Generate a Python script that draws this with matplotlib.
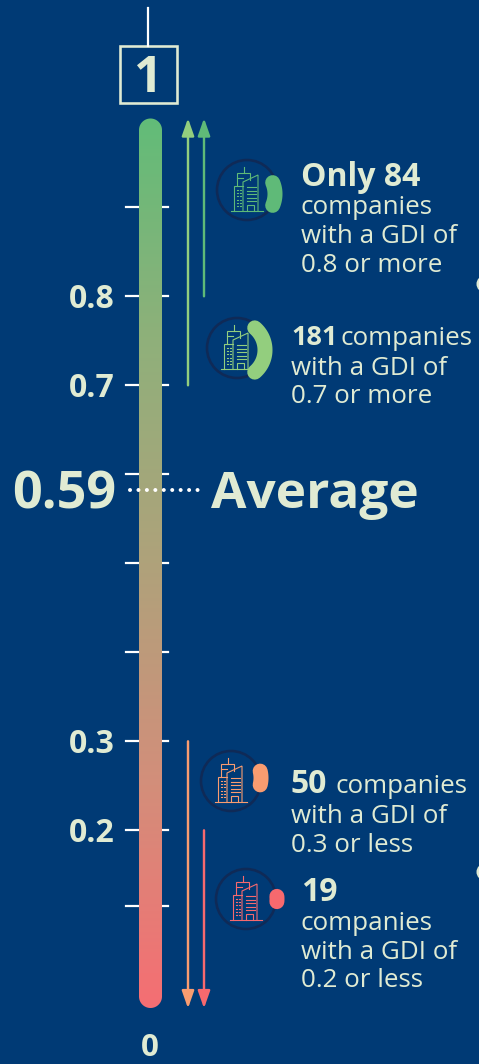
import numpy as np
import matplotlib.pyplot as plt
from matplotlib.colors import LinearSegmentedColormap
from matplotlib.patches import Circle, PathPatch, Rectangle
from matplotlib.path import Path

plt.rcParams['font.family'] = ['Open Sans', 'DejaVu Sans']

BG = '#003A75'
TXT = '#E0EBD3'
W, H = 479, 1064

# gdi scale: where the ticks sit
tick_values = [0.9, 0.8, 0.7, 0.6, 0.5, 0.4, 0.3, 0.2, 0.115]
tick_labels = ['', '0.8', '0.7', '', '', '', '0.3', '0.2', '']
avg_label = '0.59'
avg_position = 0.582

# callouts
counts = [84, 181, 50, 19]
thresholds = [0.8, 0.7, 0.3, 0.2]
directions = ['up', 'up', 'down', 'down']
colors = ['#5FBA78', '#93CE7E', '#F99C70', '#F7696E']
count_texts = ['Only 84', '181', '50', '19']
count_sizes = [23, 19.5, 23, 23]
inline_gap = [0, 50, 45, 0]
tail_texts = ['0.8 or more', '0.7 or more', '0.3 or less', '0.2 or less']

# layout in pixels
icon_xy = [(247, 190), (237, 348), (231, 781), (246, 899)]
blob_xy = [(246, 194), (236, 350), (232, 778), (248, 899)]
text_x = [301, 291, 291, 301]
baselines = [[186, 213.5, 243, 272], [345, 375, 403], [793, 823, 852], [901, 930, 959, 987]]
arrow_x = [204, 188, 188, 204]


def val(py):
    # pixel row to gdi value
    return 0.8 - (py - 296.3) / 890


fig = plt.figure(figsize=(W / 100, H / 100), dpi=100, facecolor=BG)
ax = fig.add_axes([0, 0, 1, 1], facecolor=BG)
ax.set_xlim(0, W)
ax.set_ylim(val(H), val(0))
ax.axis('off')

px = fig.add_axes([0, 0, 1, 1], facecolor='none')
px.set_xlim(0, W)
px.set_ylim(H, 0)
px.axis('off')

lw_px = 0.72  # points per pixel

# top stem and box
px.plot([148, 148], [8, 46], color='white', lw=2.2 * lw_px)
px.add_patch(Rectangle((120, 46), 57, 57, fill=False, ec=TXT, lw=2.6 * lw_px))
px.text(148, 92, '1', color=TXT, fontsize=36, fontweight='bold', ha='center', va='baseline')
px.text(150, 1056.5, '0', color=TXT, fontsize=22.5, fontweight='bold', ha='center', va='baseline')

# ticks
for v, lab in zip(tick_values, tick_labels):
    ax.plot([126, 168], [v, v], color='white', lw=2.2 * lw_px, zorder=1)
    if lab:
        ax.annotate(lab, (115, v), xytext=(0, -11.5 * lw_px), textcoords='offset points', color=TXT,
                    fontsize=23, fontweight='bold', ha='right', va='baseline')

# gradient bar
cmap = LinearSegmentedColormap.from_list('gdi', ['#F56E73', '#D38E7A', '#AFA27A', '#8FB07A', '#62BC78'])
grad = np.linspace(1, 0, 256).reshape(-1, 1)
im = ax.imshow(grad, cmap=cmap, extent=(139, 162, 0, 1), aspect='auto', zorder=2)
ax.set_xlim(0, W)
ax.set_ylim(val(H), val(0))

# round ends, the boxstyle corners come out too square
r = 11.5
a = np.linspace(np.pi, 2 * np.pi, 40)
outline = np.vstack([
    np.column_stack([150.5 + r * np.cos(a), 130 + r * np.sin(a)]),
    np.column_stack([150.5 + r * np.cos(a - np.pi), 996.5 + r * np.sin(a - np.pi)]),
])
clip = PathPatch(Path(outline, closed=False), transform=px.transData, fc='none', ec='none')
px.add_patch(clip)
im.set_clip_path(clip)

# average
ax.plot([130, 198], [avg_position, avg_position], color='white', lw=4 * lw_px,
        linestyle=(0, (0.01, 2.1)), dash_capstyle='round', zorder=3)
ax.annotate(avg_label, (116, avg_position), xytext=(0, -18 * lw_px), textcoords='offset points',
            color=TXT, fontsize=37.5, fontweight='bold', ha='right', va='baseline')
ax.annotate('Average', (211, avg_position), xytext=(0, -18 * lw_px), textcoords='offset points',
            color=TXT, fontsize=37, fontweight='bold', ha='left', va='baseline')


def building(cx, cy, c):
    kw = dict(color=c, lw=1.1 * lw_px, solid_joinstyle='miter')
    px.plot([cx - 15.5, cx + 16.5], [cy + 21, cy + 21], **kw)
    px.plot(np.array([-13, -13, -4]) + cx, np.array([21, -4, -4]) + cy, **kw)
    px.plot(np.array([-4, -4, 11, 11]) + cx, np.array([21, -8, -15, 21]) + cy, **kw)
    px.plot(np.array([-9.5, -9.5, 3, 3]) + cx, np.array([-4, -17, -17, -10]) + cy, **kw)
    px.plot(np.array([-9.5, -4]) + cx, np.array([-12, -12]) + cy, **kw)
    px.plot([cx - 3, cx - 3], [cy - 23, cy - 17], **kw)
    px.plot(np.array([0, 0, 7, 7]) + cx, np.array([21, 15, 15, 21]) + cy, **kw)
    for dy in np.arange(-3, 13, 3.6):
        px.plot([cx + 0.5, cx + 9], [cy + dy, cy + dy], **kw)
    for dy in np.arange(0, 19, 3.2):
        px.plot([cx - 10, cx - 9], [cy + dy, cy + dy], **kw)
        px.plot([cx - 7, cx - 6], [cy + dy, cy + dy], **kw)


for i, n in enumerate(counts):
    c = colors[i]
    t = thresholds[i]
    # arrow from threshold to the end of the scale
    end = 1.0 if directions[i] == 'up' else 0.0
    ax.annotate('', xy=(arrow_x[i], end), xytext=(arrow_x[i], t),
                arrowprops=dict(arrowstyle='-|>,head_width=0.37,head_length=1.05', color=c,
                                lw=2.4 * lw_px, shrinkA=0, shrinkB=0), zorder=3)
    # icon ring and count blob
    cx, cy = icon_xy[i]
    px.add_patch(Circle((cx, cy), 30, fill=False, ec='#0F2A57', lw=2.6 * lw_px))
    building(cx, cy, c)
    bx, by = blob_xy[i]
    span = np.radians(n * 0.55)
    theta = np.linspace(-span / 2, span / 2, 40)
    px.plot(bx + 29 * np.cos(theta), by + 29 * np.sin(theta), color=c, lw=15 * lw_px,
            solid_capstyle='round')
    # text
    x = text_x[i]
    ys = baselines[i]
    px.text(x, ys[0], count_texts[i], color=TXT, fontsize=count_sizes[i], fontweight='bold',
            va='baseline', ha='left')
    if inline_gap[i]:
        px.text(x + inline_gap[i], ys[0], 'companies', color=TXT, fontsize=18.7,
                va='baseline', ha='left')
        rest = ['with a GDI of', tail_texts[i]]
    else:
        rest = ['companies', 'with a GDI of', tail_texts[i]]
    for line, ly in zip(rest, ys[1:]):
        px.text(x, ly, line, color=TXT, fontsize=18.7, va='baseline', ha='left')

# cut-off dots at the right edge
for y in [284, 872]:
    px.add_patch(Circle((485, y), 7, fill=False, ec=TXT, lw=3 * lw_px))

fig.savefig('out.png', dpi=100, facecolor=BG)
